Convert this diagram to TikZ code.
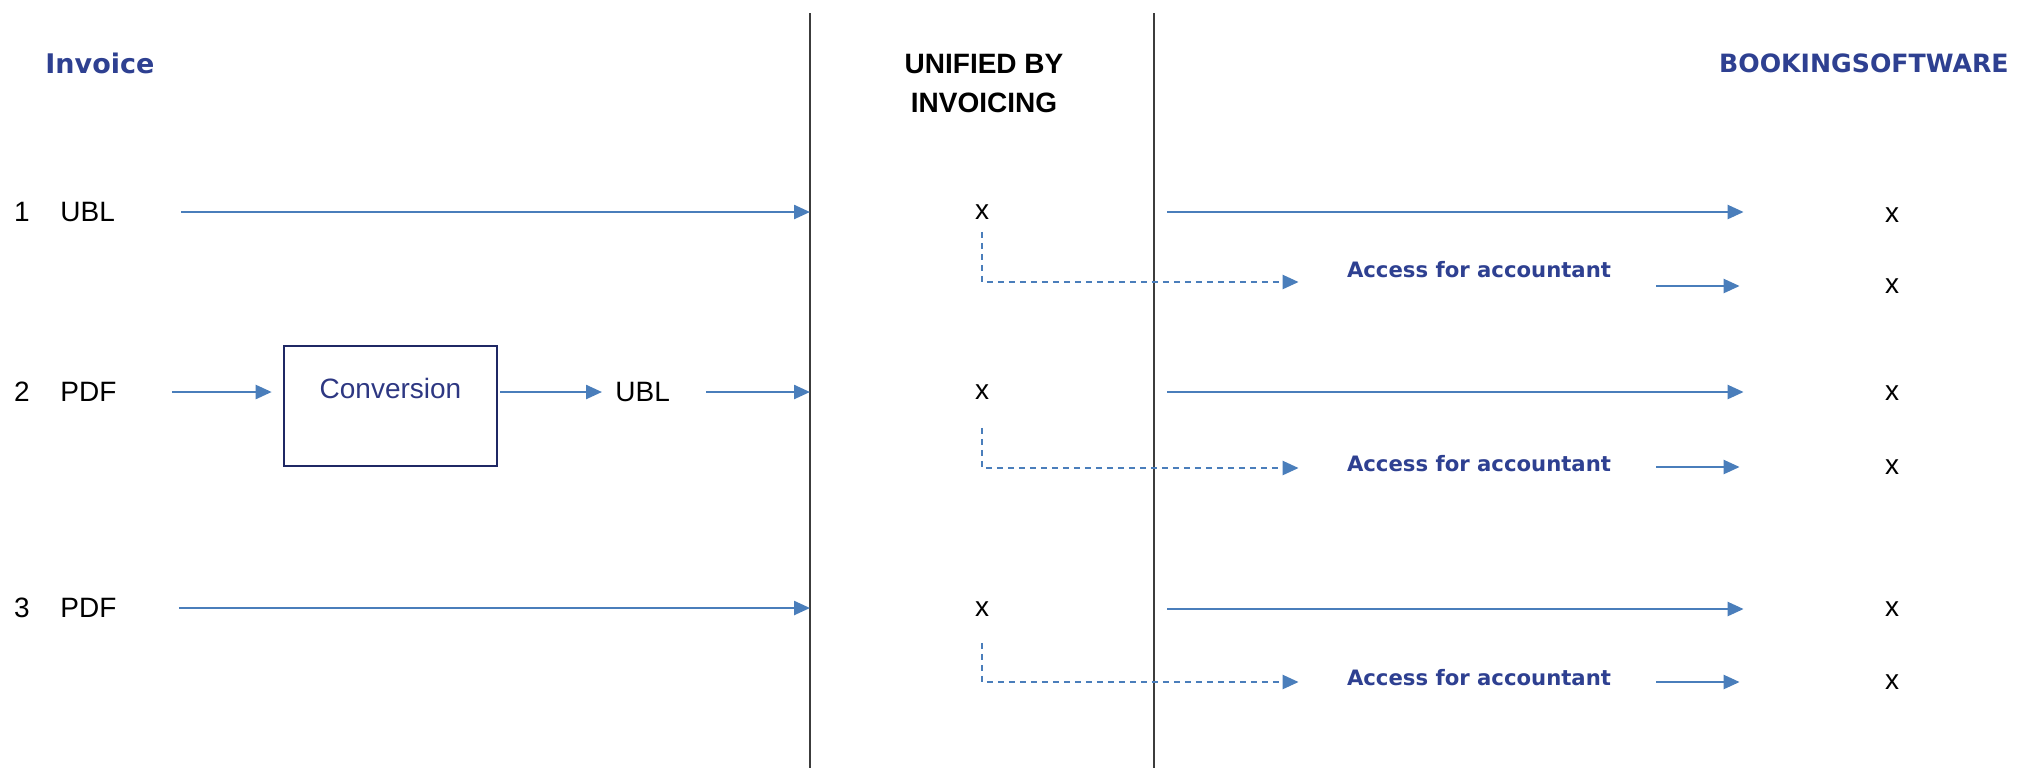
\documentclass[tikz,border=0pt]{standalone}
\usepackage{fontspec}
\setmainfont{Liberation Sans}
\newfontfamily\headfont{DejaVu Sans}
\usepackage{xcolor}
\usepackage{tikz}
\usetikzlibrary{arrows.meta}

\definecolor{headblue}{RGB}{46,64,145}
\definecolor{flowblue}{RGB}{74,126,187}
\definecolor{boxnavy}{RGB}{31,40,100}
\definecolor{convtext}{RGB}{45,55,130}
\definecolor{divgray}{RGB}{60,60,60}

\tikzset{
  lbl/.style={inner sep=0pt, font=\fontsize{14}{16}\selectfont},
  head/.style={inner sep=0pt, text=headblue, font=\headfont\bfseries\fontsize{13.5}{16}\selectfont},
  access/.style={inner sep=0pt, text=headblue, font=\headfont\bfseries\fontsize{10.6}{13}\selectfont},
  flow/.style={draw=flowblue, line width=1.2pt, -{Triangle[length=8pt,width=7pt]}},
  dflow/.style={flow, dash pattern=on 3pt off 2.5pt},
  convbox/.style={draw=boxnavy, line width=1.3pt, text=convtext, inner sep=0pt,
    minimum width=106.5pt, text height=26pt, text depth=34pt, font=\fontsize{14}{16}\selectfont},
  divider/.style={draw=divgray, line width=1.1pt}
}

\begin{document}
\begin{tikzpicture}[x=0.5pt,y=-0.5pt]
  \useasboundingbox (0,0) rectangle (2017,768);

  \coordinate (divL) at (810,13);
  \coordinate (divLb) at (810,768);
  \coordinate (divR) at (1154,13);
  \coordinate (divRb) at (1154,768);
  \draw[divider] (divL) -- (divLb);
  \draw[divider] (divR) -- (divRb);

  \node[head, anchor=west] (inv) at (45,63) {Invoice};
  \node[lbl, align=center, font=\bfseries\fontsize{14}{19.5}\selectfont] (uni) at (984,83) {UNIFIED BY\\INVOICING};
  \node[head, anchor=east, font=\headfont\bfseries\fontsize{12.6}{16}\selectfont] (book) at (2009,63) {BOOKINGSOFTWARE};

  \node[lbl] (n1) at (22,212) {1};
  \node[lbl, anchor=west] (f1) at (60,212) {UBL};
  \node[lbl] (n2) at (22,392) {2};
  \node[lbl, anchor=west] (f2) at (60,392) {PDF};
  \node[lbl] (n3) at (22,608) {3};
  \node[lbl, anchor=west] (f3) at (60,608) {PDF};

  \node[convbox] (conv) at (390.5,406) {Conversion};
  \node[lbl, anchor=west] (ubl2) at (615,392) {UBL};

  \node[lbl] (x1) at (982,212) {x};
  \node[lbl] (x2) at (982,392) {x};
  \node[lbl] (x3) at (982,609) {x};

  \node[access] (a1) at (1479,270) {Access for accountant};
  \node[access] (a2) at (1479,464) {Access for accountant};
  \node[access] (a3) at (1479,678) {Access for accountant};

  \node[lbl] (b1) at (1892,215) {x};
  \node[lbl] (c1) at (1892,286) {x};
  \node[lbl] (b2) at (1892,393) {x};
  \node[lbl] (c2) at (1892,467) {x};
  \node[lbl] (b3) at (1892,609) {x};
  \node[lbl] (c3) at (1892,682) {x};

  \draw[flow, shorten <=33pt] (f1.east) -- (f1.east -| divL);
  \draw[flow, shorten <=27.5pt, shorten >=5.5pt] (f2.east) -- (f2.east -| conv.west);
  \draw[flow, shorten <=1pt, shorten >=6.5pt] (ubl2.west -| conv.east) -- (ubl2.west);
  \draw[flow, shorten <=18pt] (ubl2.east) -- (ubl2.east -| divL);
  \draw[flow, shorten <=31pt] (f3.east) -- (f3.east -| divL);

  \draw[flow, shorten <=89pt, shorten >=70.5pt] (x1.east) -- (x1.east -| b1.west);
  \draw[flow, shorten <=89pt, shorten >=70.5pt] (x2.east) -- (x2.east -| b2.west);
  \draw[flow, shorten <=89pt, shorten >=70.5pt] (x3.east) -- (x3.east -| b3.west);

  \draw[dflow, shorten <=6pt, shorten >=24pt] (x1.south) |- ([yshift=-6pt]a1.west);
  \draw[dflow, shorten <=14pt, shorten >=24pt] (x2.south) |- ([yshift=-2pt]a2.west);
  \draw[dflow, shorten <=13pt, shorten >=24pt] (x3.south) |- ([yshift=-2pt]a3.west);

  \draw[flow, shorten <=22.5pt, shorten >=72.5pt] (c1.west -| a1.east) -- (c1.west);
  \draw[flow, shorten <=22.5pt, shorten >=72.5pt] (c2.west -| a2.east) -- (c2.west);
  \draw[flow, shorten <=22.5pt, shorten >=72.5pt] (c3.west -| a3.east) -- (c3.west);
\end{tikzpicture}
\end{document}
